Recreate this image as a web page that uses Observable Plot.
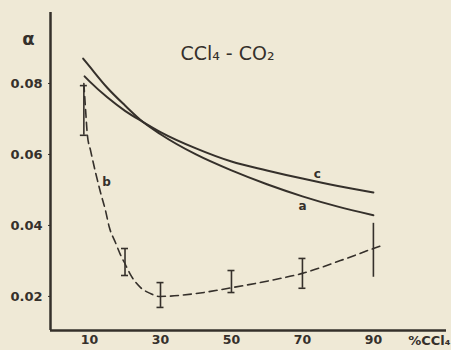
<!DOCTYPE html>
<html><head><meta charset="utf-8">
<script src="https://cdn.jsdelivr.net/npm/d3@7"></script>
<script src="https://cdn.jsdelivr.net/npm/@observablehq/plot@0.6"></script>
<style>
body{margin:0;background:#efe9d6;}
#chart svg{background:#efe9d6;display:block;}
</style>
</head><body><div id="chart"></div>
<script>
// tick values
const xTicks = [10, 30, 50, 70, 90];
const yTicks = [0.02, 0.04, 0.06, 0.08];
const xDomain = [-1, 110.6];
const yDomain = [0.0104, 0.1];

// curve a (solid, steeper)
const xA = [8.2, 10, 15, 20, 25, 30, 40, 50, 60, 70, 80, 90];
const yA = [0.0870, 0.0848, 0.0788, 0.0738, 0.0692, 0.0657, 0.0600, 0.0555, 0.0516, 0.0482, 0.0453, 0.0429];

// curve c (solid, flatter)
const xC = [8.6, 10, 15, 20, 25, 30, 40, 50, 60, 70, 80, 90];
const yC = [0.0820, 0.0806, 0.0761, 0.0723, 0.0692, 0.0663, 0.0617, 0.0580, 0.0555, 0.0532, 0.0511, 0.0493];

// curve b (dashed, experimental)
const xB = [8.4, 8.9, 9.4, 10.3, 11.7, 13.1, 14.5, 15.6, 17.3, 18.7, 20.1, 21.5, 24.4, 27.2, 29.7, 39.9, 50.3, 61.0, 70.0, 80.7, 90.0, 92.6];
const yB = [0.0800, 0.0724, 0.0654, 0.0611, 0.0549, 0.0493, 0.0442, 0.0394, 0.0352, 0.0318, 0.0290, 0.0262, 0.0225, 0.0208, 0.0200, 0.0208, 0.0225, 0.0245, 0.0265, 0.0301, 0.0335, 0.0344];

// error bars of b
const errX  = [8.4, 20, 30, 50, 70, 90];
const errLo = [0.0654, 0.0259, 0.0169, 0.0211, 0.0223, 0.0254];
const errHi = [0.0794, 0.0335, 0.0239, 0.0273, 0.0307, 0.0406];
const errCap = [true, true, true, true, true, false];

const ink = "#35302b";
const toRows = (xs, ys) => xs.map((x, i) => ({x, y: ys[i]}));
const A = toRows(xA, yA), C = toRows(xC, yC), B = toRows(xB, yB);
const E = errX.map((x, i) => ({x, lo: errLo[i], hi: errHi[i], cap: errCap[i]}));
const capped = E.filter(d => d.cap);

const labA = [{t: "a", x: xA[9], y: yA[9]}];
const labC = [{t: "c", x: xC[9], y: yC[9]}];
const labB = [{t: "b", x: xB[5], y: yB[5]}];
const lab = {x: "x", y: "y", text: "t", fontSize: 12, fontWeight: "bold", fill: ink};

const chart = Plot.plot({
  width: 451, height: 350,
  marginLeft: 50, marginRight: 5, marginTop: 12, marginBottom: 20,
  style: {background: "#efe9d6", color: ink, fontFamily: "DejaVu Sans"},
  x: {domain: xDomain, axis: null},
  y: {domain: yDomain, axis: null},
  marks: [
    Plot.axisY(yTicks, {tickFormat: d => d.toFixed(2), tickSize: 2, tickPadding: 6,
      fontSize: 13, fontWeight: "bold", stroke: ink, fill: ink, label: null}),
    Plot.axisX(xTicks, {tickSize: 0, tickPadding: 5, fontSize: 12.5, fontWeight: "bold", fill: ink, label: null}),
    Plot.ruleX([xDomain[0]], {stroke: ink, strokeWidth: 2.5}),
    Plot.ruleY([yDomain[0]], {stroke: ink, strokeWidth: 2.5}),
    Plot.line(A, {x: "x", y: "y", curve: "monotone-x", stroke: ink, strokeWidth: 2}),
    Plot.line(C, {x: "x", y: "y", curve: "monotone-x", stroke: ink, strokeWidth: 2}),
    Plot.line(B, {x: "x", y: "y", curve: "monotone-x", stroke: ink, strokeWidth: 1.6, strokeDasharray: "8,5"}),
    Plot.ruleX(E, {x: "x", y1: "lo", y2: "hi", stroke: ink, strokeWidth: 1.6}),
    Plot.ruleY(capped, {x1: "x", x2: "x", y: "lo", insetLeft: -3.5, insetRight: -3.5, stroke: ink, strokeWidth: 1.6}),
    Plot.ruleY(capped, {x1: "x", x2: "x", y: "hi", insetLeft: -3.5, insetRight: -3.5, stroke: ink, strokeWidth: 1.6}),
    Plot.text(labA, {...lab, dx: 0, dy: 10}),
    Plot.text(labC, {...lab, dx: 15, dy: -4}),
    Plot.text(labB, {...lab, dx: 6, dy: -10}),
    Plot.text(["CCl₄ - CO₂"], {frameAnchor: "top", lineAnchor: "middle", textAnchor: "middle", dx: -21, dy: 41,
      fontSize: 19, fill: ink, style: "letter-spacing:3px"}),
    Plot.text(["α"], {frameAnchor: "top-left", lineAnchor: "middle", textAnchor: "middle", dx: -22, dy: 27,
      fontSize: 18, fontWeight: "bold", fill: ink}),
    Plot.text(["%CCl₄"], {frameAnchor: "bottom-right", lineAnchor: "middle", textAnchor: "end", dx: 4, dy: 10,
      fontSize: 13, fontWeight: "bold", fill: ink})
  ]
});
document.getElementById("chart").appendChild(chart);
</script>
</body></html>
